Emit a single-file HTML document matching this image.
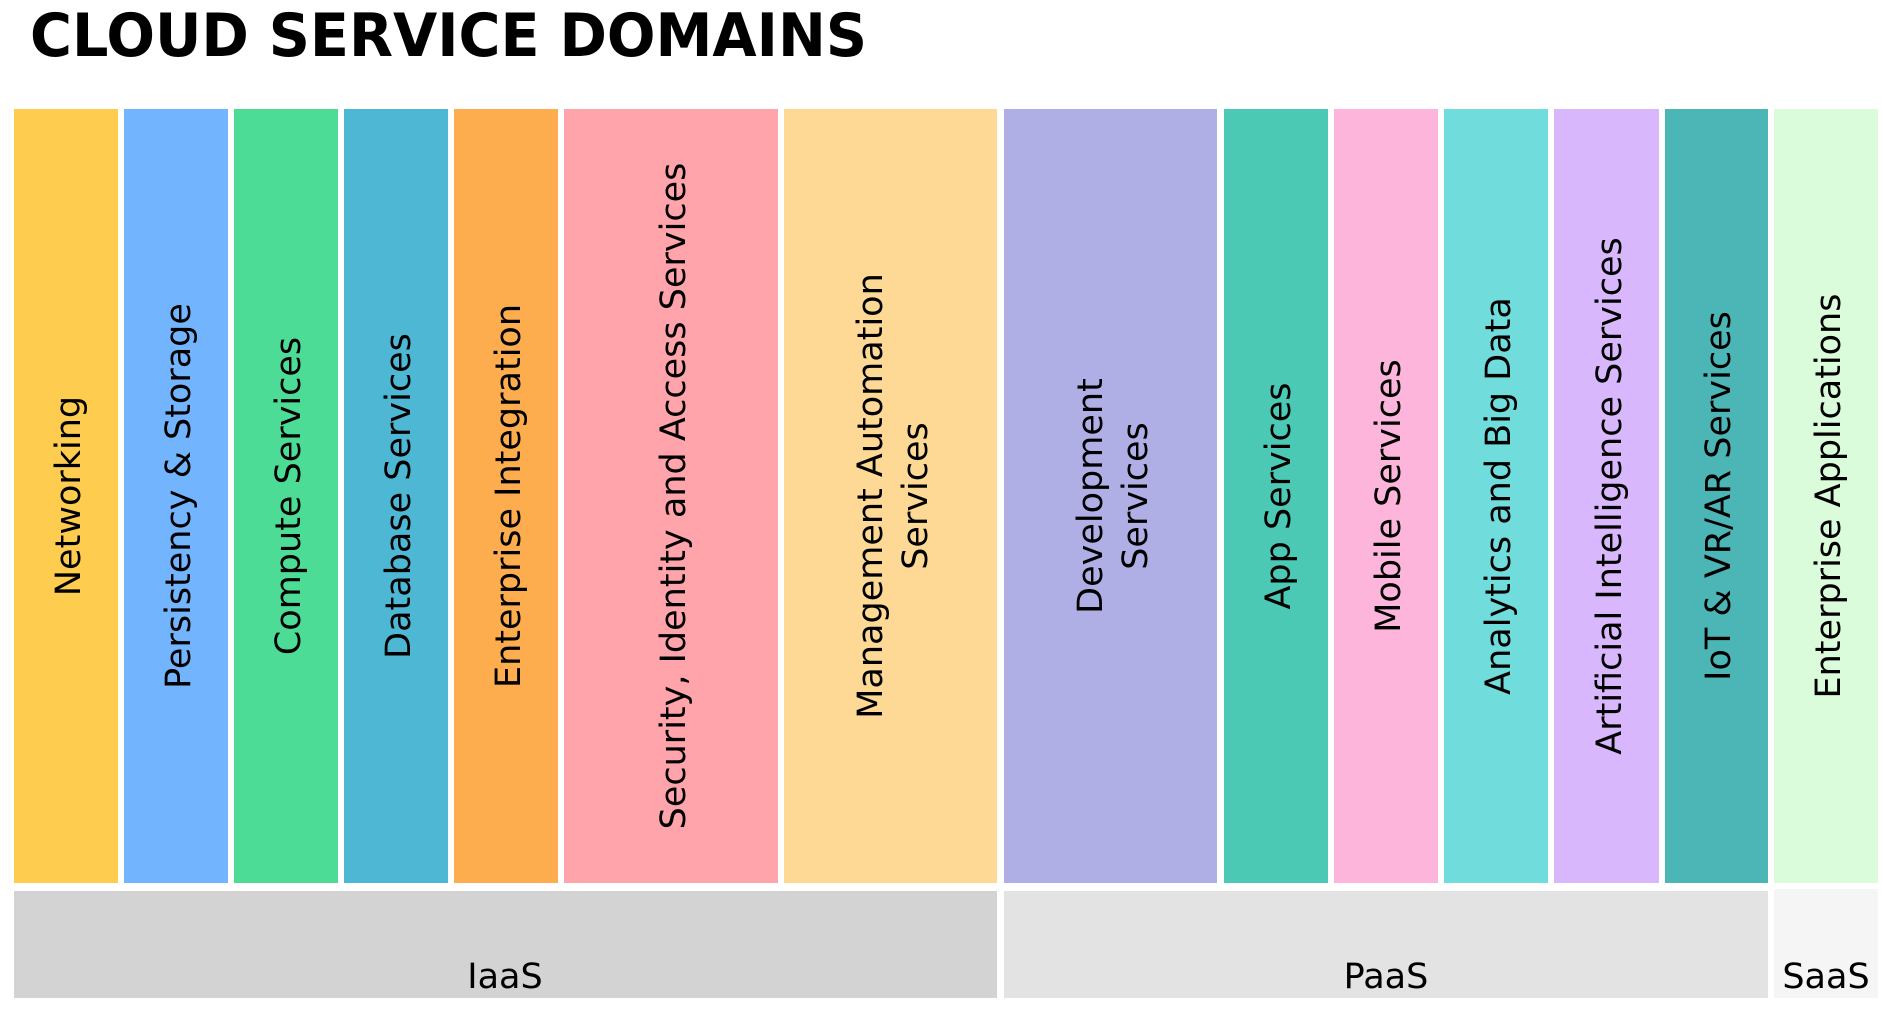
<!DOCTYPE html>
<html><head><meta charset="utf-8"><style>
html,body{margin:0;padding:0;background:#fff;}
svg{display:block;}
text{font-family:"DejaVu Sans","Liberation Sans",sans-serif;fill:#000;}
</style></head><body>
<svg width="1883" height="1017" viewBox="0 0 1883 1017" xmlns="http://www.w3.org/2000/svg">
<text x="30" y="56" font-size="60" font-weight="bold" textLength="837" lengthAdjust="spacingAndGlyphs">CLOUD SERVICE DOMAINS</text>
<g>
<rect x="14" y="109" width="104" height="774" fill="#FECC4E"/>
<rect x="124" y="109" width="104" height="774" fill="#72B5FE"/>
<rect x="234" y="109" width="104" height="774" fill="#4CDC96"/>
<rect x="344" y="109" width="104" height="774" fill="#4DB7D4"/>
<rect x="454" y="109" width="104" height="774" fill="#FDAD4E"/>
<rect x="564" y="109" width="214" height="774" fill="#FFA4AA"/>
<rect x="784" y="109" width="213" height="774" fill="#FED995"/>
<rect x="1004" y="109" width="213" height="774" fill="#B0AFE5"/>
<rect x="1224" y="109" width="104" height="774" fill="#4CC9B5"/>
<rect x="1334" y="109" width="104" height="774" fill="#FDB5DC"/>
<rect x="1444" y="109" width="104" height="774" fill="#70DCDC"/>
<rect x="1554" y="109" width="105" height="774" fill="#D9B7FD"/>
<rect x="1665" y="109" width="103" height="774" fill="#4CB6B7"/>
<rect x="1774" y="109" width="104" height="774" fill="#DAFCDA"/>
</g>
<g font-size="35" text-anchor="middle">
<text transform="translate(80,496) rotate(-90)">Networking</text>
<text transform="translate(190,496) rotate(-90)">Persistency &amp; Storage</text>
<text transform="translate(300,496) rotate(-90)">Compute Services</text>
<text transform="translate(410,496) rotate(-90)">Database Services</text>
<text transform="translate(520,496) rotate(-90)">Enterprise Integration</text>
<text transform="translate(685,496) rotate(-90)">Security, Identity and Access Services</text>
<text transform="translate(882,496) rotate(-90)">Management Automation</text>
<text transform="translate(927,496) rotate(-90)">Services</text>
<text transform="translate(1102,496) rotate(-90)">Development</text>
<text transform="translate(1147,496) rotate(-90)">Services</text>
<text transform="translate(1290,496) rotate(-90)">App Services</text>
<text transform="translate(1400,496) rotate(-90)">Mobile Services</text>
<text transform="translate(1510,496) rotate(-90)">Analytics and Big Data</text>
<text transform="translate(1621,496) rotate(-90)">Artificial Intelligence Services</text>
<text transform="translate(1730,496) rotate(-90)">IoT &amp; VR/AR Services</text>
<text transform="translate(1840,496) rotate(-90)">Enterprise Applications</text>
</g>
<rect x="14" y="891" width="983" height="107" fill="#D3D3D3"/>
<rect x="1004" y="891" width="764" height="107" fill="#E3E3E3"/>
<rect x="1774" y="889" width="104" height="109" fill="#F5F5F5"/>
<g font-size="35" text-anchor="middle">
<text x="505" y="988">IaaS</text>
<text x="1386" y="988">PaaS</text>
<text x="1826" y="988">SaaS</text>
</g>
</svg>
</body></html>
